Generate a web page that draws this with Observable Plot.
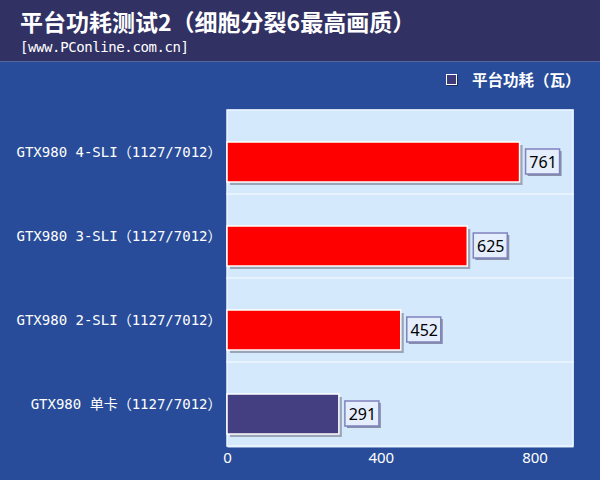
<!DOCTYPE html>
<html><head><meta charset="utf-8">
<script src="https://cdn.jsdelivr.net/npm/d3@7"></script>
<script src="https://cdn.jsdelivr.net/npm/@observablehq/plot@0.6"></script>
<style>
html,body{margin:0;padding:0;background:#284c99;}
#wrap{position:relative;width:600px;height:480px;background:#284c99;overflow:hidden;}
#head{height:62px;background:#313163;border-bottom:1px solid #5566a0;box-sizing:border-box;color:#fff;}
#title{position:absolute;left:20px;top:6px;font:bold 23px/30px "Noto Sans CJK SC",sans-serif;}
#sub{position:absolute;left:20px;top:38px;font:14px/18px "DejaVu Sans Mono",monospace;letter-spacing:-0.4px;}
#legend{position:absolute;left:446px;top:68px;color:#fff;font:bold 15.5px "Noto Sans CJK SC",sans-serif;display:flex;align-items:center;}
#legend span.sw{display:inline-block;width:9px;height:9px;background:#3d3b7c;border:1.5px solid #fff;box-shadow:1px 1px 0 #1a2a5a;margin-right:15px;}
#chart{position:absolute;left:0;top:62px;}
</style></head>
<body><div id="wrap">
<div id="head"><div id="title"></div><div id="sub"></div></div>
<div id="legend"><span class="sw"></span><span id="legtext"></span></div>
<div id="chart"></div>
</div>
<script>
const title = "平台功耗测试2（细胞分裂6最高画质）";
const subtitle = "[www.PConline.com.cn]";
const legendLabel = "平台功耗（瓦）";
const categories = ["GTX980 4-SLI（1127/7012）","GTX980 3-SLI（1127/7012）","GTX980 2-SLI（1127/7012）","GTX980 单卡（1127/7012）"];
const values = [761, 625, 452, 291];
const xTicks = [0, 400, 800];

document.getElementById("title").textContent = title;
document.getElementById("sub").textContent = subtitle;
document.getElementById("legtext").textContent = legendLabel;

const data = categories.map((name, i) => ({name, value: values[i]}));
const fillFor = d => d.name.includes("单卡") ? "#433f80" : "#ff0000";

const plot = Plot.plot({
  width: 600, height: 418,
  marginLeft: 227, marginRight: 27, marginTop: 47, marginBottom: 33,
  style: {background: "transparent", color: "#fff", fontFamily: "DejaVu Sans Mono, Noto Sans CJK SC, monospace"},
  x: {domain: [0, 900], ticks: xTicks, tickSize: 0, tickPadding: 5, label: null},
  y: {domain: categories, padding: 0, tickSize: 0, tickPadding: 6, label: null},
  marks: [
    Plot.frame({fill: "#d5e9fd"}),
    Plot.barX(data, {y: "name", x1: 0, x2: 900, fill: "#d5e9fd", stroke: "#ecf5ff", strokeWidth: 1.5}),
    Plot.barX(data, {y: "name", x: "value", insetTop: 32, insetBottom: 12, fill: "#9aa6b8", dx: 3, dy: 3}),
    Plot.barX(data, {y: "name", x: "value", insetTop: 32, insetBottom: 12, fill: fillFor, stroke: "#ffffff", strokeWidth: 1.5}),
    Plot.rect(data, {y: "name", x1: "value", x2: "value", insetLeft: 6, insetRight: -40, insetTop: 39, insetBottom: 20, fill: "#8890a8", dx: 2, dy: 2}),
    Plot.rect(data, {y: "name", x1: "value", x2: "value", insetLeft: 6, insetRight: -40, insetTop: 39, insetBottom: 20, fill: "#e4eefc", stroke: "#7f83bd", strokeWidth: 1.5}),
    Plot.text(data, {y: "name", x: "value", text: d => String(d.value), dx: 23, dy: 10, fill: "#000", fontSize: 16, fontFamily: "Noto Sans, sans-serif"}),
    Plot.axisY({tickSize: 0, tickPadding: 6, fontSize: 14, fill: "#fff"}),
    Plot.axisX({ticks: xTicks, tickSize: 0, tickPadding: 5, fontSize: 15, fontFamily: "Noto Sans, sans-serif", fill: "#fff"})
  ]
});
document.getElementById("chart").appendChild(plot);
</script>
</body></html>
